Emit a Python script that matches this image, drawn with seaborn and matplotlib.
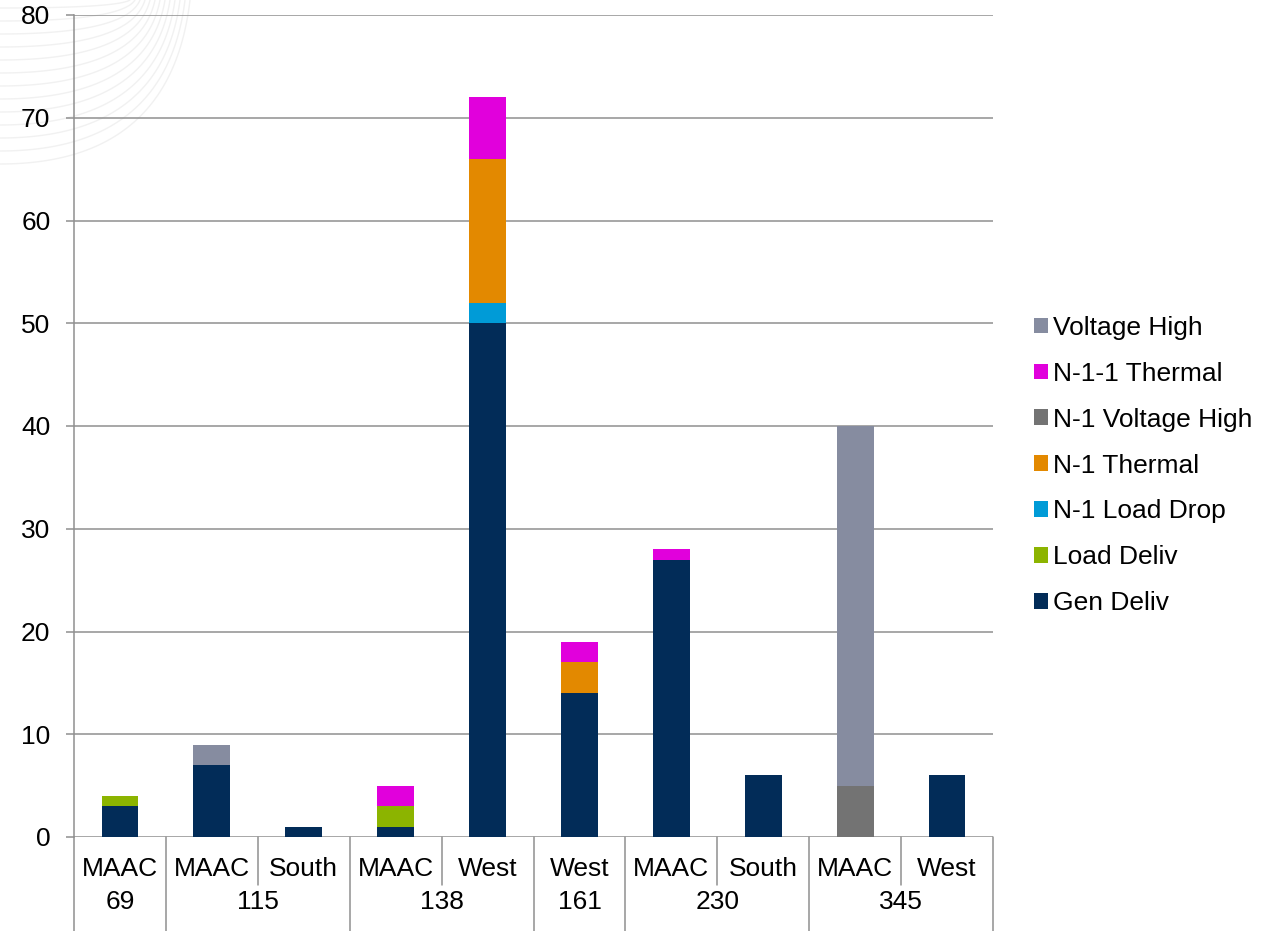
import numpy as np
import pandas as pd
import seaborn as sns
import matplotlib.pyplot as plt
import matplotlib.transforms as mtransforms
from matplotlib.lines import Line2D

# x-axis: region (row 1) and voltage level (row 2)
regions = ['MAAC', 'MAAC', 'South', 'MAAC', 'West', 'West', 'MAAC', 'South', 'MAAC', 'West']
voltages = ['69', '115', '138', '161', '230', '345']
group_sizes = [1, 2, 2, 1, 2, 2]

# stacked values per bar (bottom -> top)
gen_deliv = [3, 7, 1, 1, 50, 14, 27, 6, 0, 6]
load_deliv = [1, 0, 0, 2, 0, 0, 0, 0, 0, 0]
n1_load_drop = [0, 0, 0, 0, 2, 0, 0, 0, 0, 0]
n1_thermal = [0, 0, 0, 0, 14, 3, 0, 0, 0, 0]
n1_voltage_high = [0, 0, 0, 0, 0, 0, 0, 0, 5, 0]
n11_thermal = [0, 0, 0, 2, 6, 2, 1, 0, 0, 0]
voltage_high = [0, 2, 0, 0, 0, 0, 0, 0, 35, 0]

# legend order (top of stack first)
series_names = ['Voltage High', 'N-1-1 Thermal', 'N-1 Voltage High', 'N-1 Thermal',
                'N-1 Load Drop', 'Load Deliv', 'Gen Deliv']
series_vals = [voltage_high, n11_thermal, n1_voltage_high, n1_thermal,
               n1_load_drop, load_deliv, gen_deliv]
colors = ['#868ca0', '#e100dc', '#737373', '#e38900', '#009bd7', '#8cb400', '#022c58']

rows = []
for name, vals in zip(series_names, series_vals):
    for i, v in enumerate(vals):
        rows.append({'pos': i, 'type': name, 'count': v})
df = pd.DataFrame(rows)

sns.set_style('white')
plt.rcParams['font.family'] = ['Liberation Sans', 'DejaVu Sans']
plt.rcParams['text.color'] = 'black'

W, H = 1274, 931
fig = plt.figure(figsize=(W / 100, H / 100), dpi=100)

# faint background swirl, top-left corner (template decoration)
t = np.linspace(0, 1, 60)
for k in range(13):
    y0 = 8 + k * 13
    x1 = 130 + k * 5
    p0, p1, p2 = np.array([0, y0]), np.array([x1 * 0.9, y0]), np.array([x1, 0])
    pts = ((1 - t) ** 2)[:, None] * p0 + (2 * (1 - t) * t)[:, None] * p1 + (t ** 2)[:, None] * p2
    fig.add_artist(Line2D(pts[:, 0] / W, 1 - pts[:, 1] / H, transform=fig.transFigure,
                          color='#f1f1f1', lw=1.0, zorder=0))

ax = fig.add_axes([74 / W, 1 - 837 / H, 919 / W, 822 / H])
ax.patch.set_alpha(0)

grid_c = '#8f8f8f'
fs = 19
sns.histplot(data=df, x='pos', hue='type', weights='count', multiple='stack',
             discrete=True, shrink=0.4, hue_order=series_names,
             palette=dict(zip(series_names, colors)), alpha=1, linewidth=0,
             ax=ax, zorder=3)

ax.set_xlim(-0.5, len(regions) - 0.5)
ax.set_ylim(0, 80)
ax.set_yticks(np.arange(0, 81, 10))
ax.yaxis.grid(True, color=grid_c, lw=1.1)
ax.set_axisbelow(True)
ax.set_xlabel('')
ax.set_ylabel('')
ax.set_xticks([])
ax.tick_params(axis='y', length=6, width=1.1, color=grid_c, pad=11,
               labelsize=fs, labelcolor='black', left=True)
for s in ['top', 'right', 'bottom']:
    ax.spines[s].set_visible(False)
ax.spines['left'].set_color(grid_c)
ax.spines['left'].set_linewidth(1.1)

# two-level category axis
trans = mtransforms.blended_transform_factory(ax.transData, ax.transAxes)
low_full = -94 / 822
low_inner = -48 / 822
for i, r in enumerate(regions):
    ax.text(i, -32 / 822, r, transform=trans, ha='center', va='center', fontsize=fs)

edge = -0.5
for v, n in zip(voltages, group_sizes):
    ax.plot([edge, edge], [0, low_full], transform=trans, color=grid_c, lw=1.1, clip_on=False)
    for k in range(1, n):
        ax.plot([edge + k, edge + k], [0, low_inner], transform=trans, color=grid_c,
                lw=1.1, clip_on=False)
    ax.text(edge + n / 2, -65 / 822, v, transform=trans, ha='center', va='center', fontsize=fs)
    edge += n
ax.plot([edge, edge], [0, low_full], transform=trans, color=grid_c, lw=1.1, clip_on=False)

sns.move_legend(ax, 'center left', bbox_to_anchor=(1034 / W, 0.5), bbox_transform=fig.transFigure,
                frameon=False, title=None, fontsize=fs, handlelength=0.53, handleheight=0.53,
                handletextpad=0.2, labelspacing=0.83, borderaxespad=0, borderpad=0)

fig.savefig('out.png', dpi=100)
